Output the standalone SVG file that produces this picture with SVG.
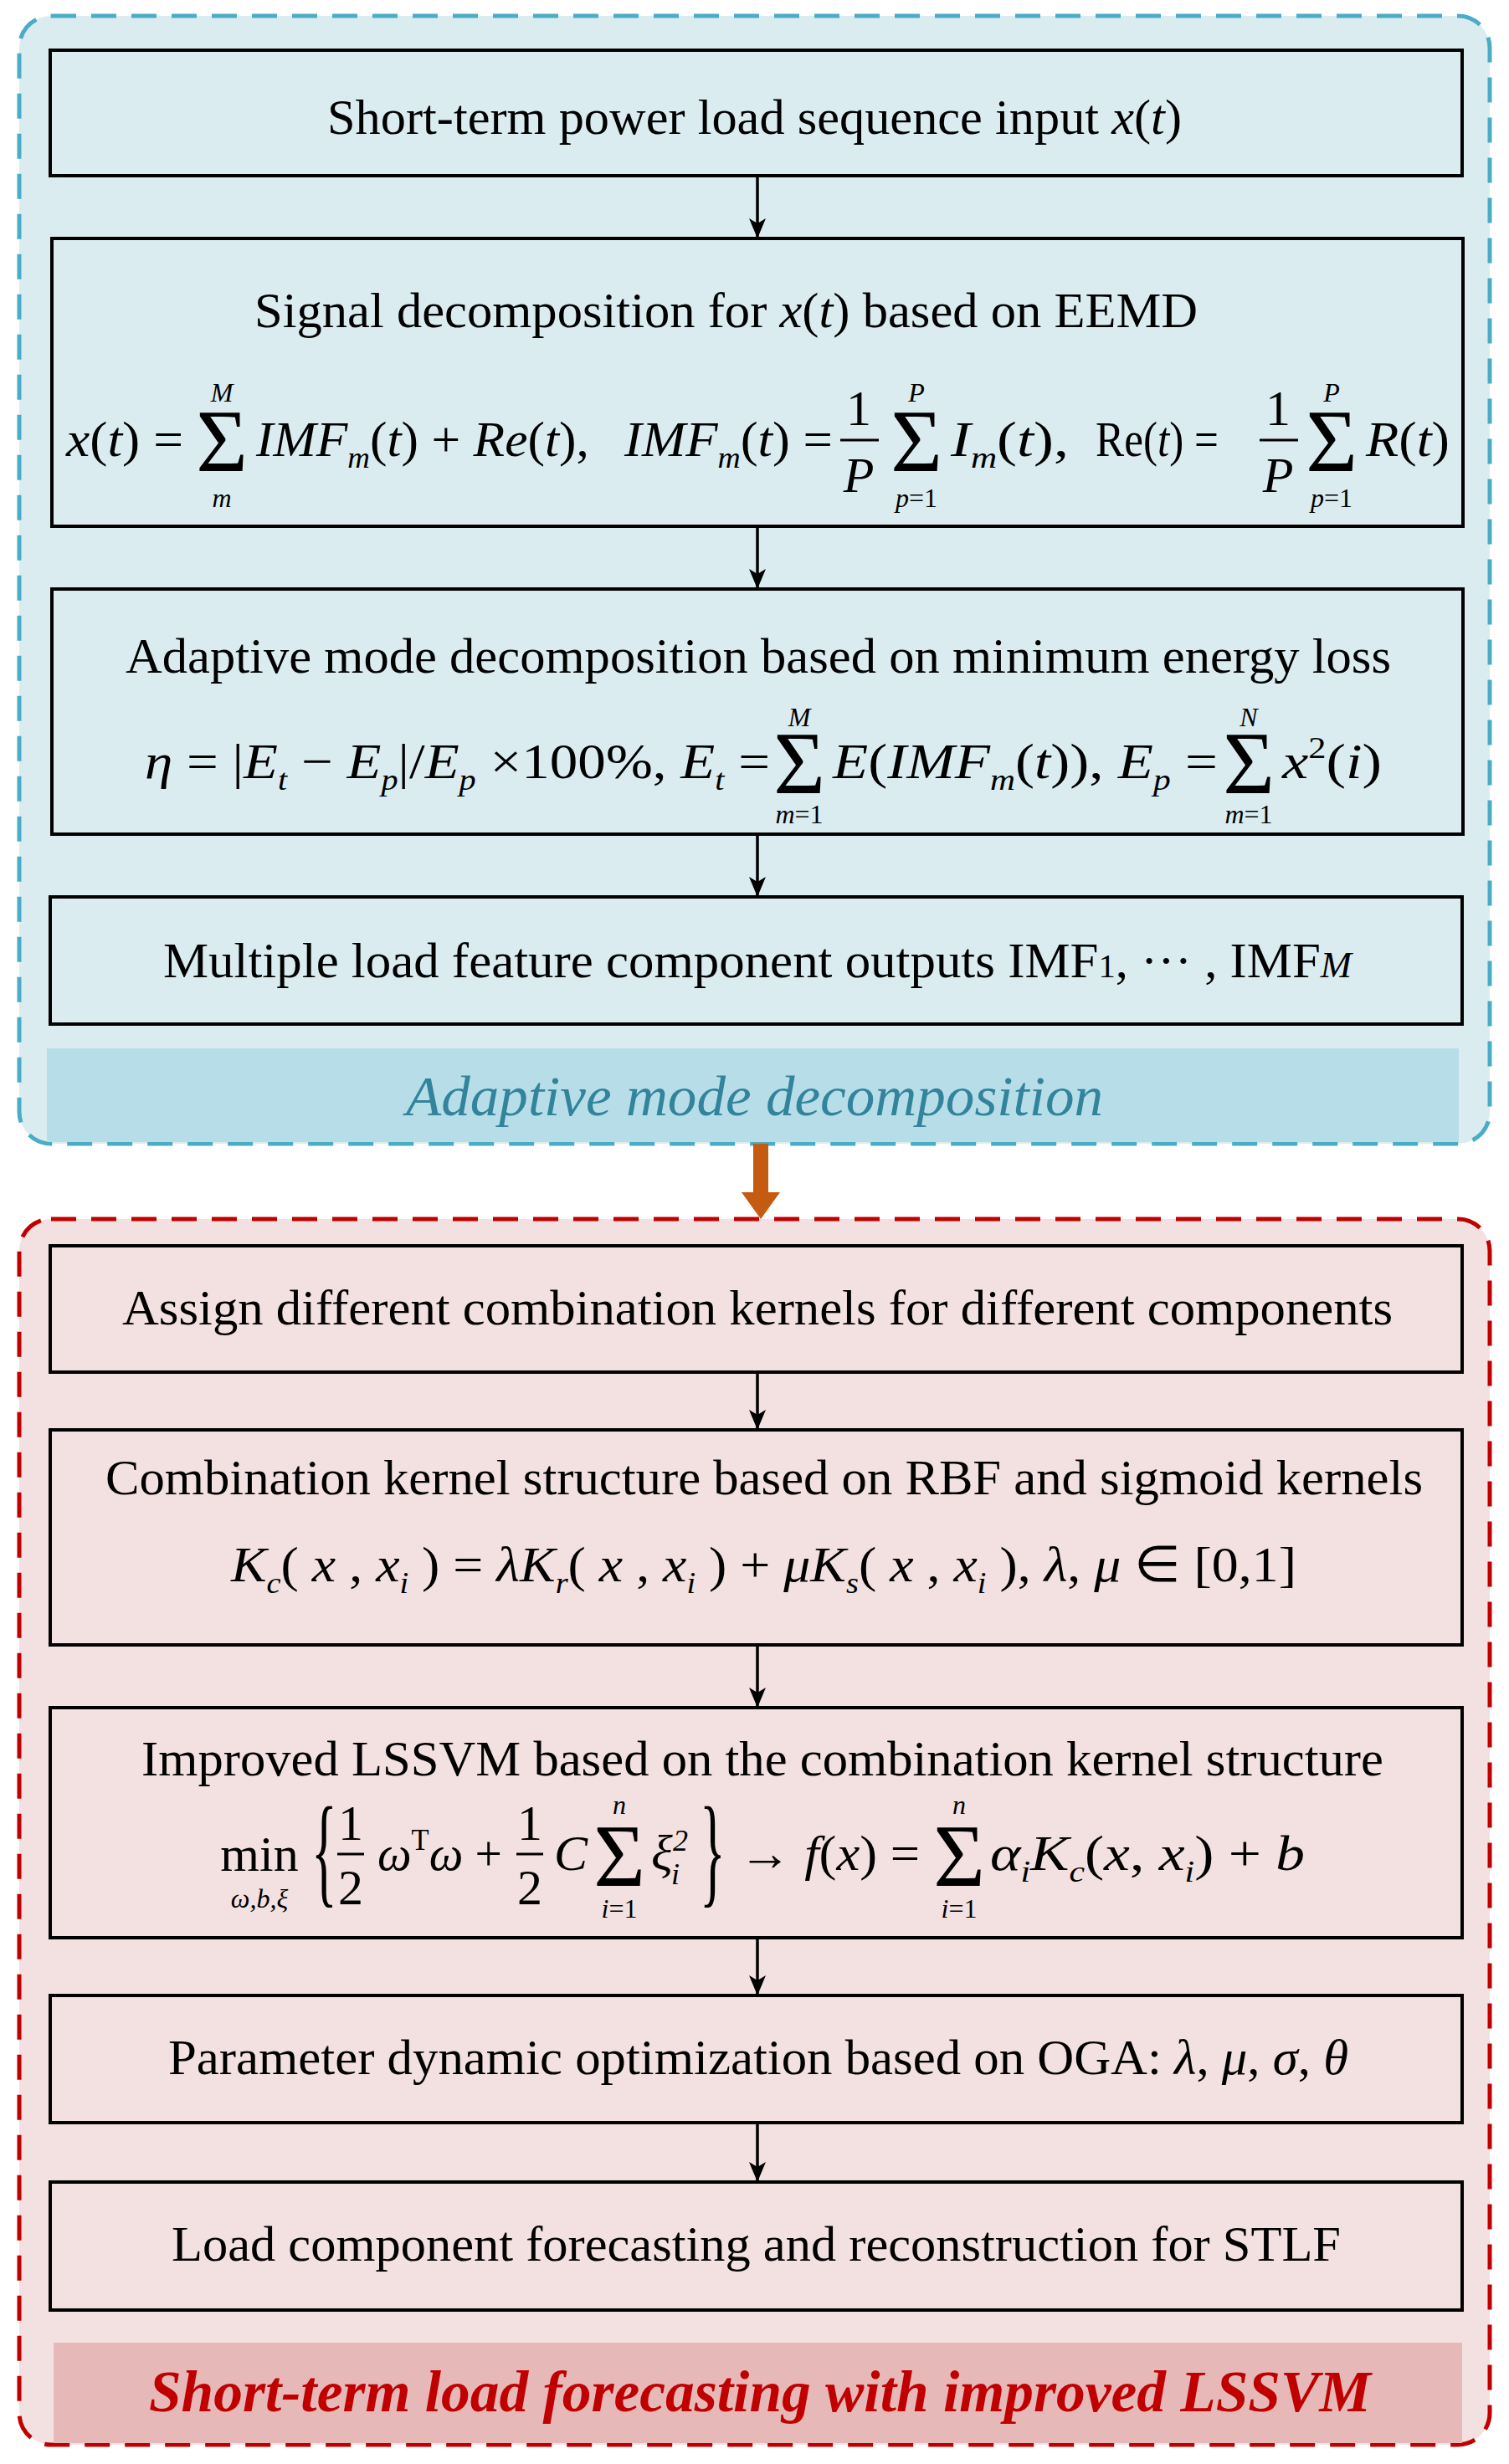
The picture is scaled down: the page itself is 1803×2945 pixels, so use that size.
<svg xmlns="http://www.w3.org/2000/svg" width="1803" height="2945" viewBox="0 0 1803 2945">
<defs>
<marker id="ah" markerWidth="24" markerHeight="20" refX="22" refY="10" orient="auto" markerUnits="userSpaceOnUse" viewBox="0 0 24 20"><path d="M0,0 L24,10 L0,20 L6,10 Z" fill="#000"/></marker>
</defs>
<style>
.box{stroke:#000;stroke-width:4}
.t{font-family:"Liberation Serif",serif;font-size:60px;fill:#000}
.m{font-family:"Liberation Serif",serif;font-size:60px;font-style:italic;fill:#000}
.u{font-style:normal}
.s{font-size:36px}
.sg{font-family:"Liberation Serif",serif;font-size:106px;fill:#000;text-anchor:middle}
.lim{font-family:"Liberation Serif",serif;font-style:italic;font-size:32px;text-anchor:middle}
.c{stroke:#000;stroke-width:3.5;fill:none}
.br{font-family:"Liberation Serif",serif;font-size:64px;fill:#000}
</style>
<rect x="23" y="19" width="1757" height="1348" rx="38" fill="#dbecf1" stroke="#4bacc6" stroke-width="5" stroke-dasharray="30,18"/>
<rect x="56" y="1253" width="1687" height="112" fill="#b7dde8"/>
<text x="485" y="1333" textLength="833" lengthAdjust="spacingAndGlyphs" font-family="Liberation Serif,serif" font-style="italic" font-size="68" fill="#31849b">Adaptive mode decomposition</text>
<rect x="23" y="1457" width="1757" height="1465" rx="38" fill="#f2e1e0" stroke="#c00000" stroke-width="5" stroke-dasharray="30,18"/>
<rect x="64" y="2800" width="1683" height="120" fill="#e6b9b8"/>
<text x="178" y="2882" textLength="1460" lengthAdjust="spacingAndGlyphs" font-family="Liberation Serif,serif" font-style="italic" font-weight="bold" font-size="70" fill="#c00000">Short-term load forecasting with improved LSSVM</text>
<g id="connectors">
<line class="c" x1="905" y1="210" x2="905" y2="283" marker-end="url(#ah)"/>
<line class="c" x1="905" y1="629" x2="905" y2="702" marker-end="url(#ah)"/>
<line class="c" x1="905" y1="997" x2="905" y2="1070" marker-end="url(#ah)"/>
<path d="M900,1367 H918 V1425 H932 L909,1457 L886,1425 H900 Z" fill="#c55a11"/>
<line class="c" x1="905" y1="1640" x2="905" y2="1707" marker-end="url(#ah)"/>
<line class="c" x1="905" y1="1966" x2="905" y2="2039" marker-end="url(#ah)"/>
<line class="c" x1="905" y1="2316" x2="905" y2="2383" marker-end="url(#ah)"/>
<line class="c" x1="905" y1="2537" x2="905" y2="2606" marker-end="url(#ah)"/>
</g>
<g id="n1"><rect class="box" x="60" y="60" width="1687" height="150" fill="none"/>
<text class="t" x="391" y="160" textLength="1021" lengthAdjust="spacingAndGlyphs">Short-term power load sequence input <tspan font-style="italic">x</tspan>(<tspan font-style="italic">t</tspan>)</text></g>
<g id="n2"><rect class="box" x="62" y="285" width="1686" height="344" fill="none"/>
<text class="t" x="304" y="391" textLength="1127" lengthAdjust="spacingAndGlyphs">Signal decomposition for <tspan font-style="italic">x</tspan>(<tspan font-style="italic">t</tspan>) based on EEMD</text>
<text class="m" x="79" y="545" textLength="140" lengthAdjust="spacingAndGlyphs">x<tspan class="u">(</tspan>t<tspan class="u">) =</tspan></text>
<text class="sg" x="265" y="563">Σ</text><text class="lim" x="265" y="480">M</text><text class="lim" x="265" y="606">m</text>
<text class="m" x="306" y="545" textLength="398" lengthAdjust="spacingAndGlyphs">IMF<tspan class="s" dy="14">m</tspan><tspan class="u" dy="-14">(</tspan>t<tspan class="u">) + </tspan>Re<tspan class="u">(</tspan>t<tspan class="u">),</tspan></text>
<text class="m" x="746" y="545" textLength="249" lengthAdjust="spacingAndGlyphs">IMF<tspan class="s" dy="14">m</tspan><tspan class="u" dy="-14">(</tspan>t<tspan class="u">) =</tspan></text>
<text class="m u" x="1026" y="508" text-anchor="middle">1</text><line x1="1004" y1="526" x2="1050" y2="526" stroke="#000" stroke-width="3"/><text class="m" x="1026" y="588" text-anchor="middle">P</text>
<text class="sg" x="1095" y="563">Σ</text><text class="lim" x="1095" y="480">P</text><text class="lim" x="1095" y="606">p<tspan font-style="normal">=1</tspan></text>
<text class="m" x="1136" y="545" textLength="141" lengthAdjust="spacingAndGlyphs">I<tspan class="s" dy="14">m</tspan><tspan class="u" dy="-14">(</tspan>t<tspan class="u">),</tspan></text>
<text class="m" x="1309" y="545" textLength="147" lengthAdjust="spacingAndGlyphs"><tspan class="u">Re(</tspan>t<tspan class="u">) =</tspan></text>
<text class="m u" x="1527" y="508" text-anchor="middle">1</text><line x1="1505" y1="526" x2="1551" y2="526" stroke="#000" stroke-width="3"/><text class="m" x="1527" y="588" text-anchor="middle">P</text>
<text class="sg" x="1591" y="563">Σ</text><text class="lim" x="1591" y="480">P</text><text class="lim" x="1591" y="606">p<tspan font-style="normal">=1</tspan></text>
<text class="m" x="1632" y="545" textLength="100" lengthAdjust="spacingAndGlyphs">R<tspan class="u">(</tspan>t<tspan class="u">)</tspan></text>
</g>
<g id="n3"><rect class="box" x="62" y="704" width="1686" height="293" fill="none"/>
<text class="t" x="150" y="804" textLength="1512" lengthAdjust="spacingAndGlyphs">Adaptive mode decomposition based on minimum energy loss</text>
<text class="m" x="173" y="930" textLength="747" lengthAdjust="spacingAndGlyphs">η <tspan class="u">= |</tspan>E<tspan class="s" dy="14">t</tspan><tspan class="u" dy="-14"> − </tspan>E<tspan class="s" dy="14">p</tspan><tspan class="u" dy="-14">|/</tspan>E<tspan class="s" dy="14">p</tspan><tspan class="u" dy="-14"> ×100%, </tspan>E<tspan class="s" dy="14">t</tspan><tspan class="u" dy="-14"> =</tspan></text>
<text class="sg" x="955" y="948" font-size="96">Σ</text><text class="lim" x="955" y="868">M</text><text class="lim" x="955" y="984">m<tspan font-style="normal">=1</tspan></text>
<text class="m" x="995" y="930" textLength="460" lengthAdjust="spacingAndGlyphs">E<tspan class="u">(</tspan>IMF<tspan class="s" dy="14">m</tspan><tspan class="u" dy="-14">(</tspan>t<tspan class="u">)), </tspan>E<tspan class="s" dy="14">p</tspan><tspan class="u" dy="-14"> =</tspan></text>
<text class="sg" x="1492" y="948" font-size="96">Σ</text><text class="lim" x="1492" y="868">N</text><text class="lim" x="1492" y="984">m<tspan font-style="normal">=1</tspan></text>
<text class="m" x="1532" y="930" textLength="119" lengthAdjust="spacingAndGlyphs">x<tspan class="u s" dy="-24">2</tspan><tspan class="u" dy="24">(</tspan>i<tspan class="u">)</tspan></text>
</g>
<g id="n4"><rect class="box" x="60" y="1072" width="1687" height="152" fill="none"/>
<text class="t" x="195" y="1168" textLength="1420" lengthAdjust="spacingAndGlyphs">Multiple load feature component outputs IMF<tspan font-size="40">1</tspan>, ··· , IMF<tspan font-size="44" font-style="italic">M</tspan></text></g>
<g id="n5"><rect class="box" x="60" y="1489" width="1687" height="151" fill="none"/>
<text class="t" x="146" y="1583" textLength="1518" lengthAdjust="spacingAndGlyphs">Assign different combination kernels for different components</text></g>
<g id="n6"><rect class="box" x="60" y="1709" width="1687" height="257" fill="none"/>
<text class="t" x="126" y="1786" textLength="1574" lengthAdjust="spacingAndGlyphs">Combination kernel structure based on RBF and sigmoid kernels</text>
<text class="m" x="276" y="1890" textLength="1273" lengthAdjust="spacingAndGlyphs">K<tspan class="s" dy="14">c</tspan><tspan class="u" dy="-14">( </tspan>x <tspan class="u">, </tspan>x<tspan class="s" dy="14">i</tspan><tspan class="u" dy="-14"> ) = </tspan>λK<tspan class="s" dy="14">r</tspan><tspan class="u" dy="-14">( </tspan>x <tspan class="u">, </tspan>x<tspan class="s" dy="14">i</tspan><tspan class="u" dy="-14"> ) + </tspan>μK<tspan class="s" dy="14">s</tspan><tspan class="u" dy="-14">( </tspan>x <tspan class="u">, </tspan>x<tspan class="s" dy="14">i</tspan><tspan class="u" dy="-14"> ),  </tspan>λ<tspan class="u">, </tspan>μ<tspan class="u"> ∈ [0,1]</tspan></text>
</g>
<g id="n7"><rect class="box" x="60" y="2041" width="1687" height="275" fill="none"/>
<text class="t" x="169" y="2122" textLength="1484" lengthAdjust="spacingAndGlyphs">Improved LSSVM based on the combination kernel structure</text>
<text class="m u" x="310" y="2236" text-anchor="middle">min</text><text class="lim" x="310" y="2280">ω,b,ξ</text>
<text class="br" transform="translate(372,2260) scale(1,2.3)">{</text>
<text class="m u" x="419" y="2199" text-anchor="middle">1</text><line x1="403" y1="2216" x2="435" y2="2216" stroke="#000" stroke-width="3"/><text class="m u" x="419" y="2276" text-anchor="middle">2</text>
<text class="m" x="451" y="2235" textLength="149" lengthAdjust="spacingAndGlyphs">ω<tspan class="u s" dy="-24">T</tspan><tspan dy="24">ω</tspan><tspan class="u"> +</tspan></text>
<text class="m u" x="633" y="2199" text-anchor="middle">1</text><line x1="617" y1="2216" x2="649" y2="2216" stroke="#000" stroke-width="3"/><text class="m u" x="633" y="2276" text-anchor="middle">2</text>
<text class="m" x="662" y="2235">C</text>
<text class="sg" x="740" y="2254" font-size="100">Σ</text><text class="lim" x="740" y="2168">n</text><text class="lim" x="740" y="2292">i<tspan font-style="normal">=1</tspan></text>
<text class="m" x="778" y="2235">ξ</text><text class="m s" x="804" y="2212" font-style="normal">2</text><text class="m s" x="802" y="2252">i</text>
<text class="br" transform="translate(836,2260) scale(1,2.3)">}</text>
<text class="m" x="883" y="2235" textLength="216" lengthAdjust="spacingAndGlyphs"><tspan class="u">→ </tspan>f<tspan class="u">(</tspan>x<tspan class="u">) =</tspan></text>
<text class="sg" x="1146" y="2254" font-size="100">Σ</text><text class="lim" x="1146" y="2168">n</text><text class="lim" x="1146" y="2292">i<tspan font-style="normal">=1</tspan></text>
<text class="m" x="1183" y="2235" textLength="376" lengthAdjust="spacingAndGlyphs">α<tspan class="s" dy="14">i</tspan><tspan dy="-14">K</tspan><tspan class="s" dy="14">c</tspan><tspan class="u" dy="-14">(</tspan>x<tspan class="u">, </tspan>x<tspan class="s" dy="14">i</tspan><tspan class="u" dy="-14">) + </tspan>b</text>
</g>
<g id="n8"><rect class="box" x="60" y="2385" width="1687" height="152" fill="none"/>
<text class="t" x="201" y="2479" textLength="1410" lengthAdjust="spacingAndGlyphs">Parameter dynamic optimization based on OGA: <tspan font-style="italic">λ</tspan>, <tspan font-style="italic">μ</tspan>, <tspan font-style="italic">σ</tspan>, <tspan font-style="italic">θ</tspan></text></g>
<g id="n9"><rect class="box" x="60" y="2608" width="1687" height="153" fill="none"/>
<text class="t" x="205" y="2702" textLength="1397" lengthAdjust="spacingAndGlyphs">Load component forecasting and reconstruction for STLF</text></g>
</svg>
